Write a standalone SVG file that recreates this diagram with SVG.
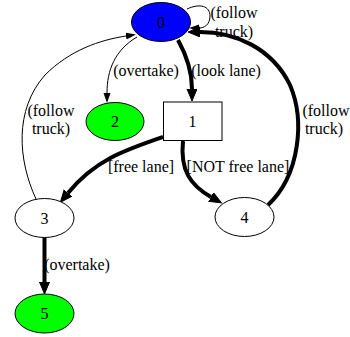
<svg xmlns="http://www.w3.org/2000/svg" width="350" height="337" viewBox="0 0 350 337">
<style>
text{font-family:"Liberation Serif","Times New Roman",serif;font-size:16px;fill:#000;text-anchor:middle}
.n{stroke:#000;stroke-width:1}
.e{fill:none;stroke:#000;stroke-width:1}
.t{fill:none;stroke:#000;stroke-width:4}
</style>
<defs>
<marker id="a" markerUnits="userSpaceOnUse" markerWidth="11" markerHeight="8" refX="0" refY="3.5" orient="auto"><path d="M0,0 L10,3.5 L0,7 z" fill="#000"/></marker>
<marker id="b" markerUnits="userSpaceOnUse" markerWidth="14" markerHeight="12" refX="0" refY="5" orient="auto"><path d="M0,0 L12,5 L0,10 z" fill="#000" stroke="#000" stroke-width="1"/></marker>
</defs>
<rect width="350" height="337" fill="#fff"/>
<g id="edges">
<path class="e" d="M187,9 C200,3 210,6 210,16 C210,25 204,28 199,28" marker-end="url(#a)"/>
<path class="e" d="M137,37 C115,50 107,70 107,93" marker-end="url(#a)"/>
<path class="t" d="M178,40 C188,58 192,72 192,89" marker-end="url(#b)"/>
<path class="e" d="M36,199 C18,160 14,110 45,75 C70,50 100,40 126,36" marker-end="url(#a)"/>
<path class="t" d="M163,137 C125,150 95,160 68,193" marker-end="url(#b)"/>
<path class="t" d="M183,141 C180,170 190,185 211,197" marker-end="url(#b)"/>
<path class="t" d="M44.5,238 L44.5,282" marker-end="url(#b)"/>
<path class="t" d="M268,205 C300,175 305,120 290,85 C272,48 235,32 200,32" marker-end="url(#b)"/>
<text x="234" y="18">(follow</text><text x="234" y="37">truck)</text>
<text x="146" y="76">(overtake)</text>
<text x="226" y="76">(look lane)</text>
<text x="51" y="116">(follow</text><text x="51" y="134">truck)</text>
<text x="326" y="116">(follow</text><text x="324" y="134">truck)</text>
<text x="141" y="172">[free lane]</text>
<text x="238" y="172">[NOT free lane]</text>
<text x="77" y="270">(overtake)</text>
</g>
<g id="n0"><ellipse class="n" cx="161" cy="22" rx="29.5" ry="19.5" fill="#0000ff"/><text x="161" y="28">0</text></g>
<g id="n1"><rect class="n" x="163.5" y="102" width="58.5" height="38.5" fill="#fff"/><text x="192.5" y="127">1</text></g>
<g id="n2"><ellipse class="n" cx="115" cy="121.5" rx="29" ry="19" fill="#00ff00"/><text x="115" y="127">2</text></g>
<g id="n3"><ellipse class="n" cx="44.5" cy="218" rx="29.5" ry="19.5" fill="#fff"/><text x="44.5" y="224">3</text></g>
<g id="n4"><ellipse class="n" cx="244.5" cy="217" rx="29.5" ry="19.5" fill="#fff"/><text x="244.5" y="223">4</text></g>
<g id="n5"><ellipse class="n" cx="44.5" cy="313.5" rx="29.5" ry="19.5" fill="#00ff00"/><text x="44.5" y="319">5</text></g>
</svg>
